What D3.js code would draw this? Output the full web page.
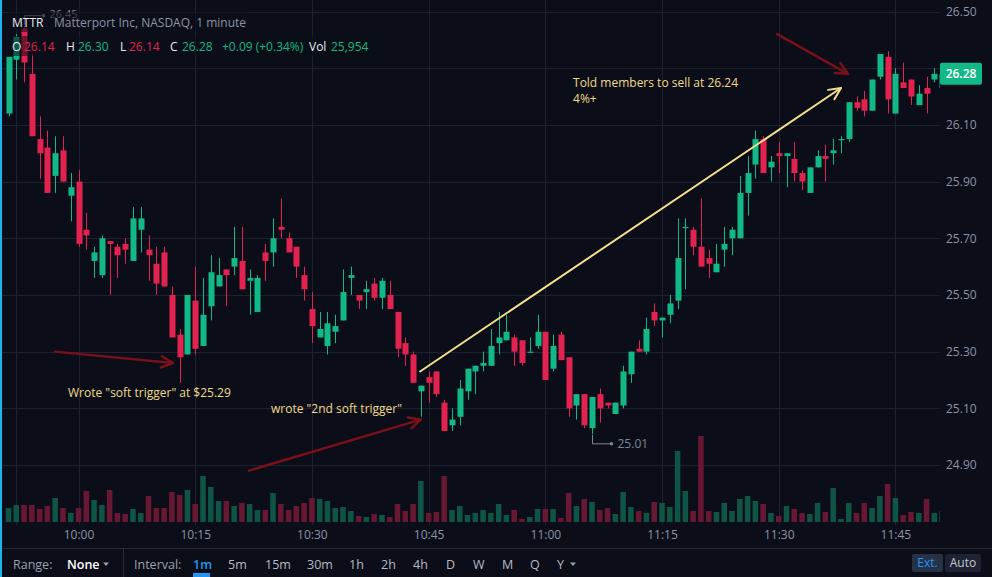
<!DOCTYPE html>
<html>
<head>
<meta charset="utf-8">
<script src="https://cdn.jsdelivr.net/npm/d3@7"></script>
<style>
  body { margin: 0; background: #0b0e18; }
  svg { display: block; font-family: "Open Sans", sans-serif; }
</style>
</head>
<body>
<svg></svg>
<script>
// MTTR 1 minute bars, 09:51 -> 11:51 (one value per bar)
const startTime = new Date(2021, 10, 10, 9, 51);

const opens = [26.14,26.33,26.44,26.28,26.05,26.02,25.92,26.01,25.85,25.90,
  25.73,25.62,25.57,25.69,25.67,25.68,25.62,25.73,25.66,25.61,
  25.65,25.50,25.36,25.29,25.48,25.32,25.46,25.53,25.59,25.60,
  25.62,25.55,25.44,25.65,25.65,25.74,25.70,25.67,25.57,25.45,
  25.35,25.32,25.37,25.41,25.56,25.50,25.51,25.54,25.49,25.50,
  25.44,25.33,25.29,25.16,25.21,25.23,25.12,25.04,25.07,25.16,
  25.23,25.25,25.25,25.33,25.34,25.35,25.34,25.30,25.32,25.37,
  25.24,25.36,25.28,25.11,25.15,25.03,25.15,25.12,25.08,25.11,
  25.22,25.31,25.30,25.44,25.41,25.43,25.48,25.74,25.73,25.67,
  25.63,25.58,25.66,25.70,25.70,25.86,25.96,26.05,25.95,26.00,
  25.99,25.98,25.93,25.86,25.95,25.99,26.00,26.05,26.05,26.18,
  26.19,26.15,26.27,26.34,26.14,26.25,26.26,26.17,26.23,26.26,
  26.23];

const highs = [26.34,26.42,26.45,26.35,26.13,26.08,26.06,26.06,25.93,25.94,
  25.79,25.67,25.71,25.69,25.68,25.70,25.81,25.81,25.71,25.67,
  25.67,25.53,25.38,25.50,25.60,25.56,25.64,25.63,25.59,25.74,
  25.74,25.59,25.57,25.68,25.77,25.84,25.72,25.67,25.60,25.51,
  25.44,25.44,25.43,25.59,25.60,25.50,25.55,25.56,25.56,25.55,
  25.44,25.35,25.30,25.18,25.23,25.23,25.13,25.10,25.20,25.24,
  25.25,25.30,25.38,25.44,25.43,25.36,25.34,25.35,25.43,25.37,
  25.36,25.37,25.28,25.15,25.15,25.14,25.17,25.12,25.12,25.25,
  25.30,25.34,25.42,25.47,25.42,25.50,25.77,25.77,25.74,25.84,
  25.66,25.68,25.74,25.74,25.92,25.99,26.08,26.06,25.99,26.04,
  26.00,26.04,25.94,25.95,26.01,26.03,26.05,26.06,26.18,26.20,
  26.22,26.26,26.35,26.36,26.30,26.32,26.26,26.24,26.27,26.30,
  26.28];

const lows = [26.13,26.26,26.25,26.06,25.91,25.86,25.86,25.90,25.76,25.67,
  25.66,25.56,25.56,25.50,25.56,25.61,25.62,25.65,25.55,25.50,
  25.53,25.35,25.19,25.29,25.29,25.32,25.41,25.53,25.46,25.57,
  25.52,25.43,25.44,25.55,25.60,25.70,25.65,25.56,25.48,25.33,
  25.35,25.29,25.33,25.41,25.50,25.45,25.45,25.48,25.45,25.45,
  25.28,25.25,25.19,25.07,25.12,25.14,25.02,25.02,25.04,25.13,
  25.15,25.23,25.25,25.29,25.34,25.25,25.25,25.30,25.31,25.20,
  25.23,25.27,25.07,25.06,25.03,25.01,25.05,25.10,25.08,25.10,
  25.19,25.30,25.29,25.39,25.35,25.40,25.45,25.52,25.64,25.60,
  25.56,25.58,25.60,25.64,25.70,25.78,25.91,25.93,25.90,25.93,
  25.88,25.90,25.87,25.86,25.95,25.90,25.96,26.00,26.04,26.15,
  26.13,26.15,26.26,26.14,26.14,26.23,26.17,26.17,26.14,26.25,
  26.23];

const closes = [26.34,26.41,26.32,26.06,26.00,25.86,26.00,25.90,25.88,25.68,
  25.71,25.65,25.70,25.68,25.64,25.66,25.77,25.77,25.64,25.54,
  25.53,25.35,25.28,25.50,25.31,25.43,25.58,25.57,25.57,25.63,
  25.52,25.56,25.56,25.62,25.70,25.73,25.65,25.60,25.52,25.39,
  25.38,25.40,25.39,25.51,25.57,25.48,25.52,25.49,25.55,25.45,
  25.31,25.29,25.19,25.18,25.19,25.15,25.02,25.06,25.17,25.24,
  25.25,25.26,25.32,25.35,25.37,25.30,25.26,25.30,25.37,25.20,
  25.32,25.27,25.10,25.15,25.04,25.14,25.10,25.11,25.12,25.23,
  25.30,25.30,25.38,25.41,25.42,25.47,25.63,25.74,25.67,25.60,
  25.61,25.61,25.68,25.73,25.86,25.93,26.05,25.93,25.97,25.99,
  26.00,25.93,25.90,25.95,25.99,25.98,26.01,26.05,26.18,26.16,
  26.15,26.26,26.35,26.19,26.28,26.23,26.20,26.21,26.21,26.28,
  26.28];

// volume in thousands of shares
const volumes = [14,17,17,17,13,16,24,14,9,14,
  31,22,17,32,9,8,13,9,26,14,
  14,30,27,32,18,46,35,21,21,16,
  19,18,12,12,29,18,12,16,19,24,
  23,21,14,15,11,6,5,8,7,5,
  18,11,18,41,9,10,46,12,16,7,
  9,12,9,18,7,12,3,5,13,13,
  13,4,29,16,23,20,12,14,8,30,
  15,11,9,20,19,15,71,31,11,86,
  11,10,19,11,23,26,21,18,9,6,
  16,13,9,8,19,10,34,3,19,9,
  19,14,26,38,24,7,10,9,23,9,
  11];

const priceTicks = [26.50, 26.30, 26.10, 25.90, 25.70, 25.50, 25.30, 25.10, 24.90];
const timeTickLabels = ["10:00", "10:15", "10:30", "10:45", "11:00", "11:15", "11:30", "11:45"];
const lastPrice = 26.28;

// drawings on the chart, positions in [bar index, price]
const redArrows = [
  { from: [6.0, 25.30], to: [21.15, 25.26] },
  { from: [30.9, 24.88], to: [53.0, 25.06] },
  { from: [98.8, 26.42], to: [107.9, 26.28] }
];
const yellowArrow = { from: [52.9, 25.23], to: [107.0, 26.23] };
const notes = [
  { at: [7.65, 25.14], text: 'Wrote "soft trigger" at $25.29' },
  { at: [33.74, 25.085], text: 'wrote "2nd soft trigger"' },
  { at: [72.56, 26.234], text: 'Told members to sell at 26.24' },
  { at: [72.56, 26.177], text: '4%+' }
];

const width = 992, height = 577;
const plotRight = 940, plotBottom = 525;
const bg = "#0b0e18", grid = "#1e2230";
const up = "#12b886", down = "#e2234f";
const upVol = "#0e5545", downVol = "#681833";

const t = i => new Date(startTime.getTime() + i * 60000);
const parseHM = d3.timeParse("%H:%M");
const onDay = hm => { const p = parseHM(hm); return new Date(2021, 10, 10, p.getHours(), p.getMinutes()); };

const bars = opens.map((o, i) => ({
  i, time: t(i), open: o, high: highs[i], low: lows[i], close: closes[i], vol: volumes[i]
}));

const x = d3.scaleTime().domain([t(0), t(120)]).range([8.5, 8.5 + 120 * 7.78]);
const y = d3.scaleLinear().domain([24.90, 26.50]).range([465, 11.5]);
const yVol = d3.scaleLinear().domain([0, 100]).range([522, 422]);
const xi = i => x(t(i));

const svg = d3.select("svg").attr("width", width).attr("height", height);
svg.append("rect").attr("width", width).attr("height", height).attr("fill", bg);

svg.append("defs").append("clipPath").attr("id", "plot")
  .append("rect").attr("x", 0).attr("y", 0).attr("width", plotRight).attr("height", plotBottom);

// grid
const gridG = svg.append("g").attr("clip-path", "url(#plot)");
gridG.selectAll(".hg").data(priceTicks).join("line")
  .attr("x1", 0).attr("x2", plotRight)
  .attr("y1", d => Math.round(y(d)) + 0.5).attr("y2", d => Math.round(y(d)) + 0.5)
  .attr("stroke", grid);
// extra vertical line at 09:52 as in the source chart
const gridTimes = ["09:52"].concat(timeTickLabels).map(onDay);
gridG.selectAll(".vg").data(gridTimes).join("line")
  .attr("x1", d => Math.round(x(d)) + 0.5).attr("x2", d => Math.round(x(d)) + 0.5)
  .attr("y1", 0).attr("y2", plotBottom)
  .attr("stroke", grid);

const plot = svg.append("g").attr("clip-path", "url(#plot)");

// volume
plot.selectAll(".vol").data(bars).join("rect")
  .attr("x", d => x(d.time) - 2.75).attr("width", 5.5)
  .attr("y", d => yVol(d.vol)).attr("height", d => yVol(0) - yVol(d.vol))
  .attr("fill", d => d.close >= d.open ? upVol : downVol);

// candles
const candle = plot.selectAll(".c").data(bars).join("g");
candle.append("line")
  .attr("x1", d => Math.round(x(d.time)) + 0.5).attr("x2", d => Math.round(x(d.time)) + 0.5)
  .attr("y1", d => y(d.high)).attr("y2", d => y(d.low))
  .attr("stroke", d => d.close >= d.open ? up : down).attr("stroke-width", 1);
candle.append("rect")
  .attr("x", d => Math.round(x(d.time)) - 2.5).attr("width", 6)
  .attr("y", d => y(Math.max(d.open, d.close)))
  .attr("height", d => Math.max(1.2, Math.abs(y(d.open) - y(d.close))))
  .attr("fill", d => d.close >= d.open ? up : down);

// high / low markers
const hiBar = bars[d3.maxIndex(bars, d => d.high)];
const loBar = bars[d3.minIndex(bars, d => d.low)];
const markColor = "#7d8597";
[[hiBar, hiBar.high, -10, 2.5], [loBar, loBar.low, 10, 4]].forEach(([b, p, dy, ty]) => {
  const px = Math.round(x(b.time)) + 0.5, py = y(p);
  svg.append("path")
    .attr("d", `M${px},${py + (dy > 0 ? 1 : -1)}V${py + dy}H${px + 19}`)
    .attr("fill", "none").attr("stroke", markColor).attr("stroke-width", 1);
  svg.append("circle").attr("cx", px + 19).attr("cy", py + dy).attr("r", 1.8).attr("fill", markColor);
  svg.append("text").attr("x", px + 25).attr("y", py + dy + ty)
    .attr("fill", markColor).attr("font-size", dy < 0 ? 11 : 12).text(p.toFixed(2));
});

// arrows
function arrow(a, color, w) {
  const x1 = xi(a.from[0]), y1 = y(a.from[1]), x2 = xi(a.to[0]), y2 = y(a.to[1]);
  const ang = Math.atan2(y2 - y1, x2 - x1), L = 13, s = 0.45;
  const g = svg.append("g").attr("stroke", color).attr("stroke-width", w)
    .attr("fill", "none").attr("stroke-linecap", "round").attr("stroke-linejoin", "round");
  g.append("line").attr("x1", x1).attr("y1", y1).attr("x2", x2).attr("y2", y2);
  g.append("path").attr("d",
    `M${x2 - L * Math.cos(ang - s)},${y2 - L * Math.sin(ang - s)}L${x2},${y2}` +
    `L${x2 - L * Math.cos(ang + s)},${y2 - L * Math.sin(ang + s)}`);
}
redArrows.forEach(a => arrow(a, "#7a1019", 2.5));
arrow(yellowArrow, "#f6df8c", 2);

svg.selectAll(".note").data(notes).join("text")
  .attr("x", d => xi(d.at[0])).attr("y", d => y(d.at[1]))
  .attr("fill", "#f3d98a").attr("font-size", 12).text(d => d.text);

// price axis (the 26.30 label sits under the last price badge, so it is left out)
const yAxis = svg.append("g").attr("transform", `translate(${plotRight},0)`)
  .call(d3.axisRight(y).tickValues(priceTicks.filter(p => Math.abs(y(p) - y(lastPrice)) > 12))
    .tickFormat(d3.format(".2f")).tickSize(0).tickPadding(6));
yAxis.select(".domain").remove();
yAxis.selectAll("text").attr("fill", "#8b93a6").attr("font-size", 12)
  .attr("font-family", '"Open Sans", sans-serif');

// last price badge
const lp = svg.append("g").attr("transform", `translate(${plotRight},${y(lastPrice)})`);
lp.append("rect").attr("x", 0).attr("y", -11).attr("width", 42).attr("height", 22).attr("rx", 2).attr("fill", up);
lp.append("text").attr("x", 21).attr("y", 4.5).attr("text-anchor", "middle")
  .attr("fill", "#fff").attr("font-size", 12).attr("font-weight", 600).text(lastPrice.toFixed(2));

// time axis
const xAxis = svg.append("g").attr("transform", `translate(0,${plotBottom})`)
  .call(d3.axisBottom(x).tickValues(timeTickLabels.map(onDay))
    .tickFormat(d3.timeFormat("%H:%M")).tickSize(0).tickPadding(5.5));
xAxis.select(".domain").remove();
xAxis.selectAll("text").attr("fill", "#8b93a6").attr("font-size", 12)
  .attr("font-family", '"Open Sans", sans-serif');

// legend
const legendBg = svg.append("g").attr("fill", bg).attr("opacity", 0.55);
legendBg.append("rect").attr("x", 8).attr("y", 12).attr("width", 240).attr("height", 20);
legendBg.append("rect").attr("x", 8).attr("y", 36).attr("width", 378).attr("height", 20);

const l1 = svg.append("text").attr("x", 12).attr("y", 27).attr("font-size", 12);
l1.append("tspan").attr("fill", "#e8eaf0").text("MTTR");
l1.append("tspan").attr("x", 54).attr("fill", "#8b93a6").text("Matterport Inc, NASDAQ, 1 minute");

const hover = bars[114];
const legendParts = [
  [12, "O", "#e8eaf0"], [24, hover.open.toFixed(2), down],
  [66, "H", "#e8eaf0"], [78, hover.high.toFixed(2), up],
  [120, "L", "#e8eaf0"], [129, hover.low.toFixed(2), down],
  [170, "C", "#e8eaf0"], [182, hover.close.toFixed(2), up],
  [222, "+0.09 (+0.34%)", up],
  [309, "Vol", "#e8eaf0"], [331, "25,954", up]
];
svg.selectAll(".lg").data(legendParts).join("text")
  .attr("x", d => d[0]).attr("y", 51).attr("font-size", 12)
  .attr("fill", d => d[2]).text(d => d[1]);

// bottom toolbar
svg.append("line").attr("x1", 0).attr("x2", width).attr("y1", 548.5).attr("y2", 548.5).attr("stroke", "#272b38");
svg.append("line").attr("x1", 123.5).attr("x2", 123.5).attr("y1", 549).attr("y2", height).attr("stroke", "#272b38");

const tb = [
  [13, "Range:", "#9aa0ae", 400], [67, "None", "#ffffff", 600],
  [134, "Interval:", "#9aa0ae", 400], [193, "1m", "#2196f3", 600],
  [228, "5m", "#b6bbc7", 400], [265, "15m", "#b6bbc7", 400], [307, "30m", "#b6bbc7", 400],
  [349, "1h", "#b6bbc7", 400], [381, "2h", "#b6bbc7", 400], [413, "4h", "#b6bbc7", 400],
  [446, "D", "#b6bbc7", 400], [473, "W", "#b6bbc7", 400], [502, "M", "#b6bbc7", 400],
  [530, "Q", "#b6bbc7", 400], [557, "Y", "#b6bbc7", 400]
];
svg.selectAll(".tb").data(tb).join("text")
  .attr("x", d => d[0]).attr("y", 569).attr("font-size", 12.5)
  .attr("fill", d => d[2]).attr("font-weight", d => d[3]).text(d => d[1]);
[106, 573].forEach(cx => svg.append("path")
  .attr("d", `M${cx - 3},562.5L${cx + 3},562.5L${cx},566Z`).attr("fill", "#9aa0ae"));
svg.append("rect").attr("x", 193).attr("y", 573).attr("width", 17).attr("height", 4).attr("fill", "#2196f3");

svg.append("rect").attr("x", 912).attr("y", 554).attr("width", 31).attr("height", 18).attr("rx", 2).attr("fill", "#283246");
svg.append("text").attr("x", 927.5).attr("y", 567).attr("text-anchor", "middle")
  .attr("font-size", 12).attr("fill", "#2196f3").text("Ext.");
svg.append("rect").attr("x", 945).attr("y", 554).attr("width", 36).attr("height", 18).attr("rx", 2).attr("fill", "#1d2332");
svg.append("text").attr("x", 963).attr("y", 567).attr("text-anchor", "middle")
  .attr("font-size", 12).attr("fill", "#c3c7d1").text("Auto");

// left accent line
svg.append("rect").attr("x", 0).attr("y", 0).attr("width", 2).attr("height", height).attr("fill", "#1fb4e8");
</script>
</body>
</html>
